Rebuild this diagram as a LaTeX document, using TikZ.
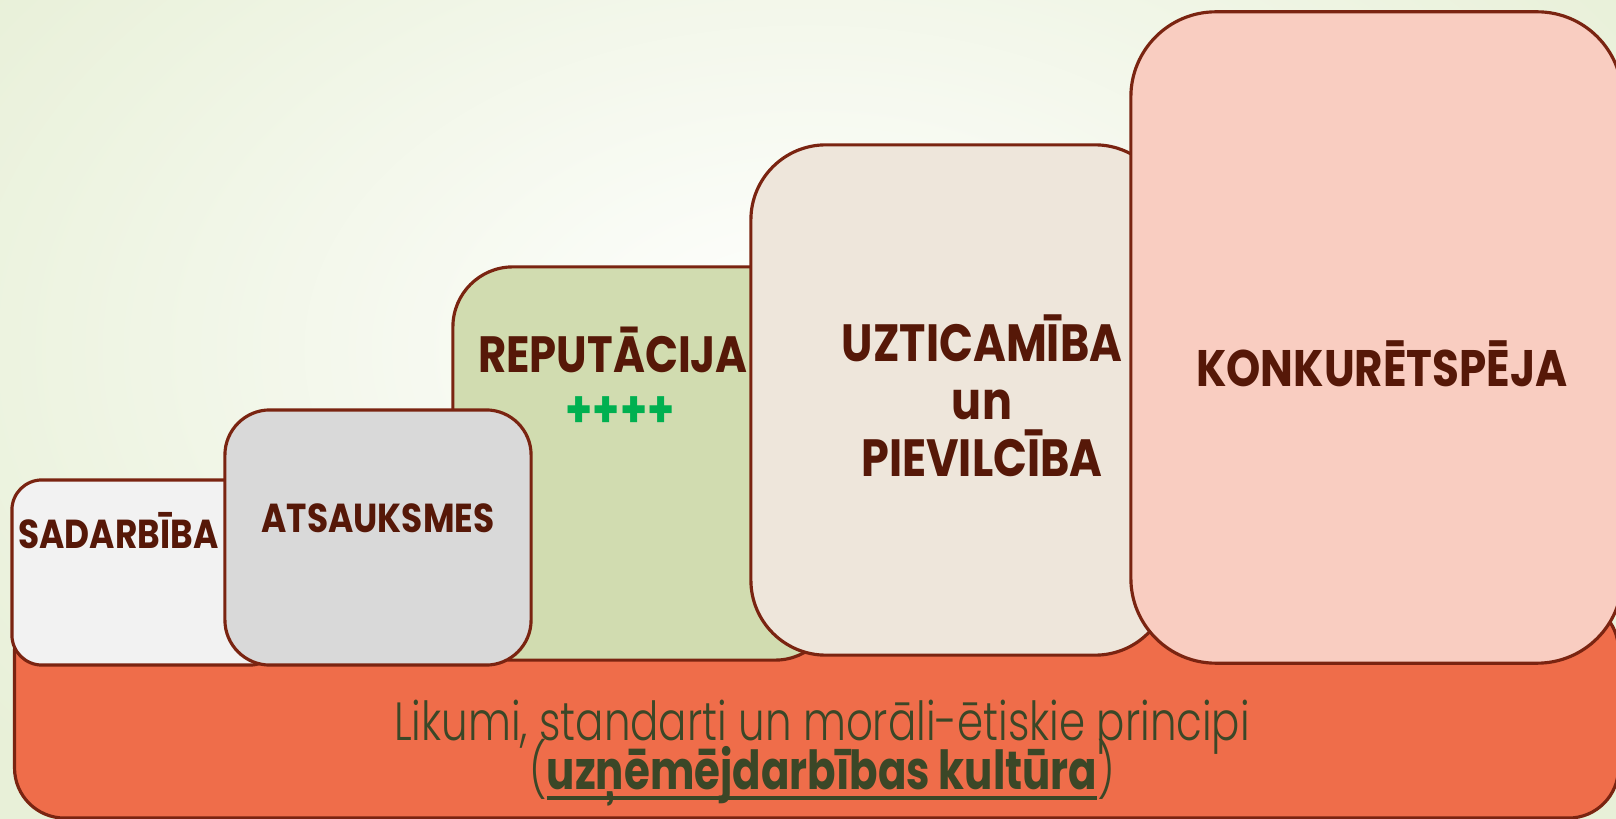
\documentclass[tikz,border=0pt]{standalone}
\usepackage{fontspec}
\setmainfont{Poppins}[FakeStretch=0.85]
\newfontfamily\thinfont{Poppins Light}[FakeStretch=0.78, BoldFont={Poppins Bold}]
\newcommand{\thickul}[1]{\leavevmode\setbox0\hbox{#1}\rlap{\raisebox{-3pt}{\rule{\wd0}{1.2pt}}}\box0}

\definecolor{bg}{HTML}{E8F0D8}
\definecolor{edge}{HTML}{7A2411}
\definecolor{ink}{HTML}{561808}
\definecolor{sadfill}{HTML}{F2F2F2}
\definecolor{atsfill}{HTML}{D9D9D9}
\definecolor{repfill}{HTML}{D1DCB0}
\definecolor{uztfill}{HTML}{EEE6DB}
\definecolor{konfill}{HTML}{F9CDC1}
\definecolor{lawfill}{HTML}{EF6D4A}
\definecolor{lawink}{HTML}{3B4727}
\definecolor{plusgreen}{HTML}{00B050}

\tikzset{
   box/.style={
      draw = edge,
      line width = 0.9pt,
      inner sep = 0pt,
      rounded corners = #1
   },
   boxtext/.style={
      text = ink,
      inner sep = 0pt,
      align = center
   }
}

\begin{document}
\begin{tikzpicture}[x=0.01cm, y=-0.01cm]
   \useasboundingbox (0,0) rectangle (1616,819);
   \clip (0,0) rectangle (1616,819);
   \shade[inner color=white, outer color=bg] (-200,-300) rectangle (1816,1000);

   % pamats
   \node[box=0.5cm, fill=lawfill, minimum width=16.03cm, minimum height=2.18cm] (base) at (816.5,709) {};
   \node[text=lawink, inner sep=0pt, align=center, font=\thinfont\fontsize{15.3}{14}\selectfont] (law) at (822,752)
      {Likumi, standarti un morāli-ētiskie principi\\\raisebox{0pt}[8pt][4pt]{(\textbf{\thickul{uzņēmējdarbības kultūra}})}};

   % pakapieni
   \node[box=0.3cm, fill=sadfill, minimum width=2.68cm, minimum height=1.85cm] (sad) at (146,572.5) {};
   \node[box=0.6cm, fill=repfill, minimum width=3.82cm, minimum height=3.93cm] (rep) at (644,463.5) {};
   \node[box=0.45cm, fill=atsfill, minimum width=3.06cm, minimum height=2.55cm] (ats) at (378,537.5) {};
   \node[box=0.75cm, fill=uztfill, minimum width=4.19cm, minimum height=5.10cm] (uzt) at (960.5,400) {};
   \node[box=0.85cm, fill=konfill, minimum width=4.91cm, minimum height=6.51cm] (kon) at (1376.5,337.5) {};

   \node[boxtext, anchor=base, font=\bfseries\fontsize{11.5}{14}\selectfont] (sadt) at (118.5,548) {SADARBĪBA};
   \node[boxtext, anchor=base, font=\bfseries\fontsize{11.5}{14}\selectfont] (atst) at (378,532) {ATSAUKSMES};
   \node[boxtext, anchor=base, font=\bfseries\fontsize{14.5}{17}\selectfont] (rept) at (613,373) {REPUTĀCIJA};
   \node[text=plusgreen, inner sep=0pt, font=\bfseries\fontsize{14.5}{15}\selectfont] (plus) at (620,412) {++++};
   \node[boxtext, font=\bfseries\fontsize{14.9}{16.4}\selectfont] (uztt) at (982,396) {UZTICAMĪBA\\un\\PIEVILCĪBA};
   \node[boxtext, anchor=base, font=\bfseries\fontsize{14.6}{17}\selectfont] (kont) at (1382,386.5) {KONKURĒTSPĒJA};
\end{tikzpicture}
\end{document}
